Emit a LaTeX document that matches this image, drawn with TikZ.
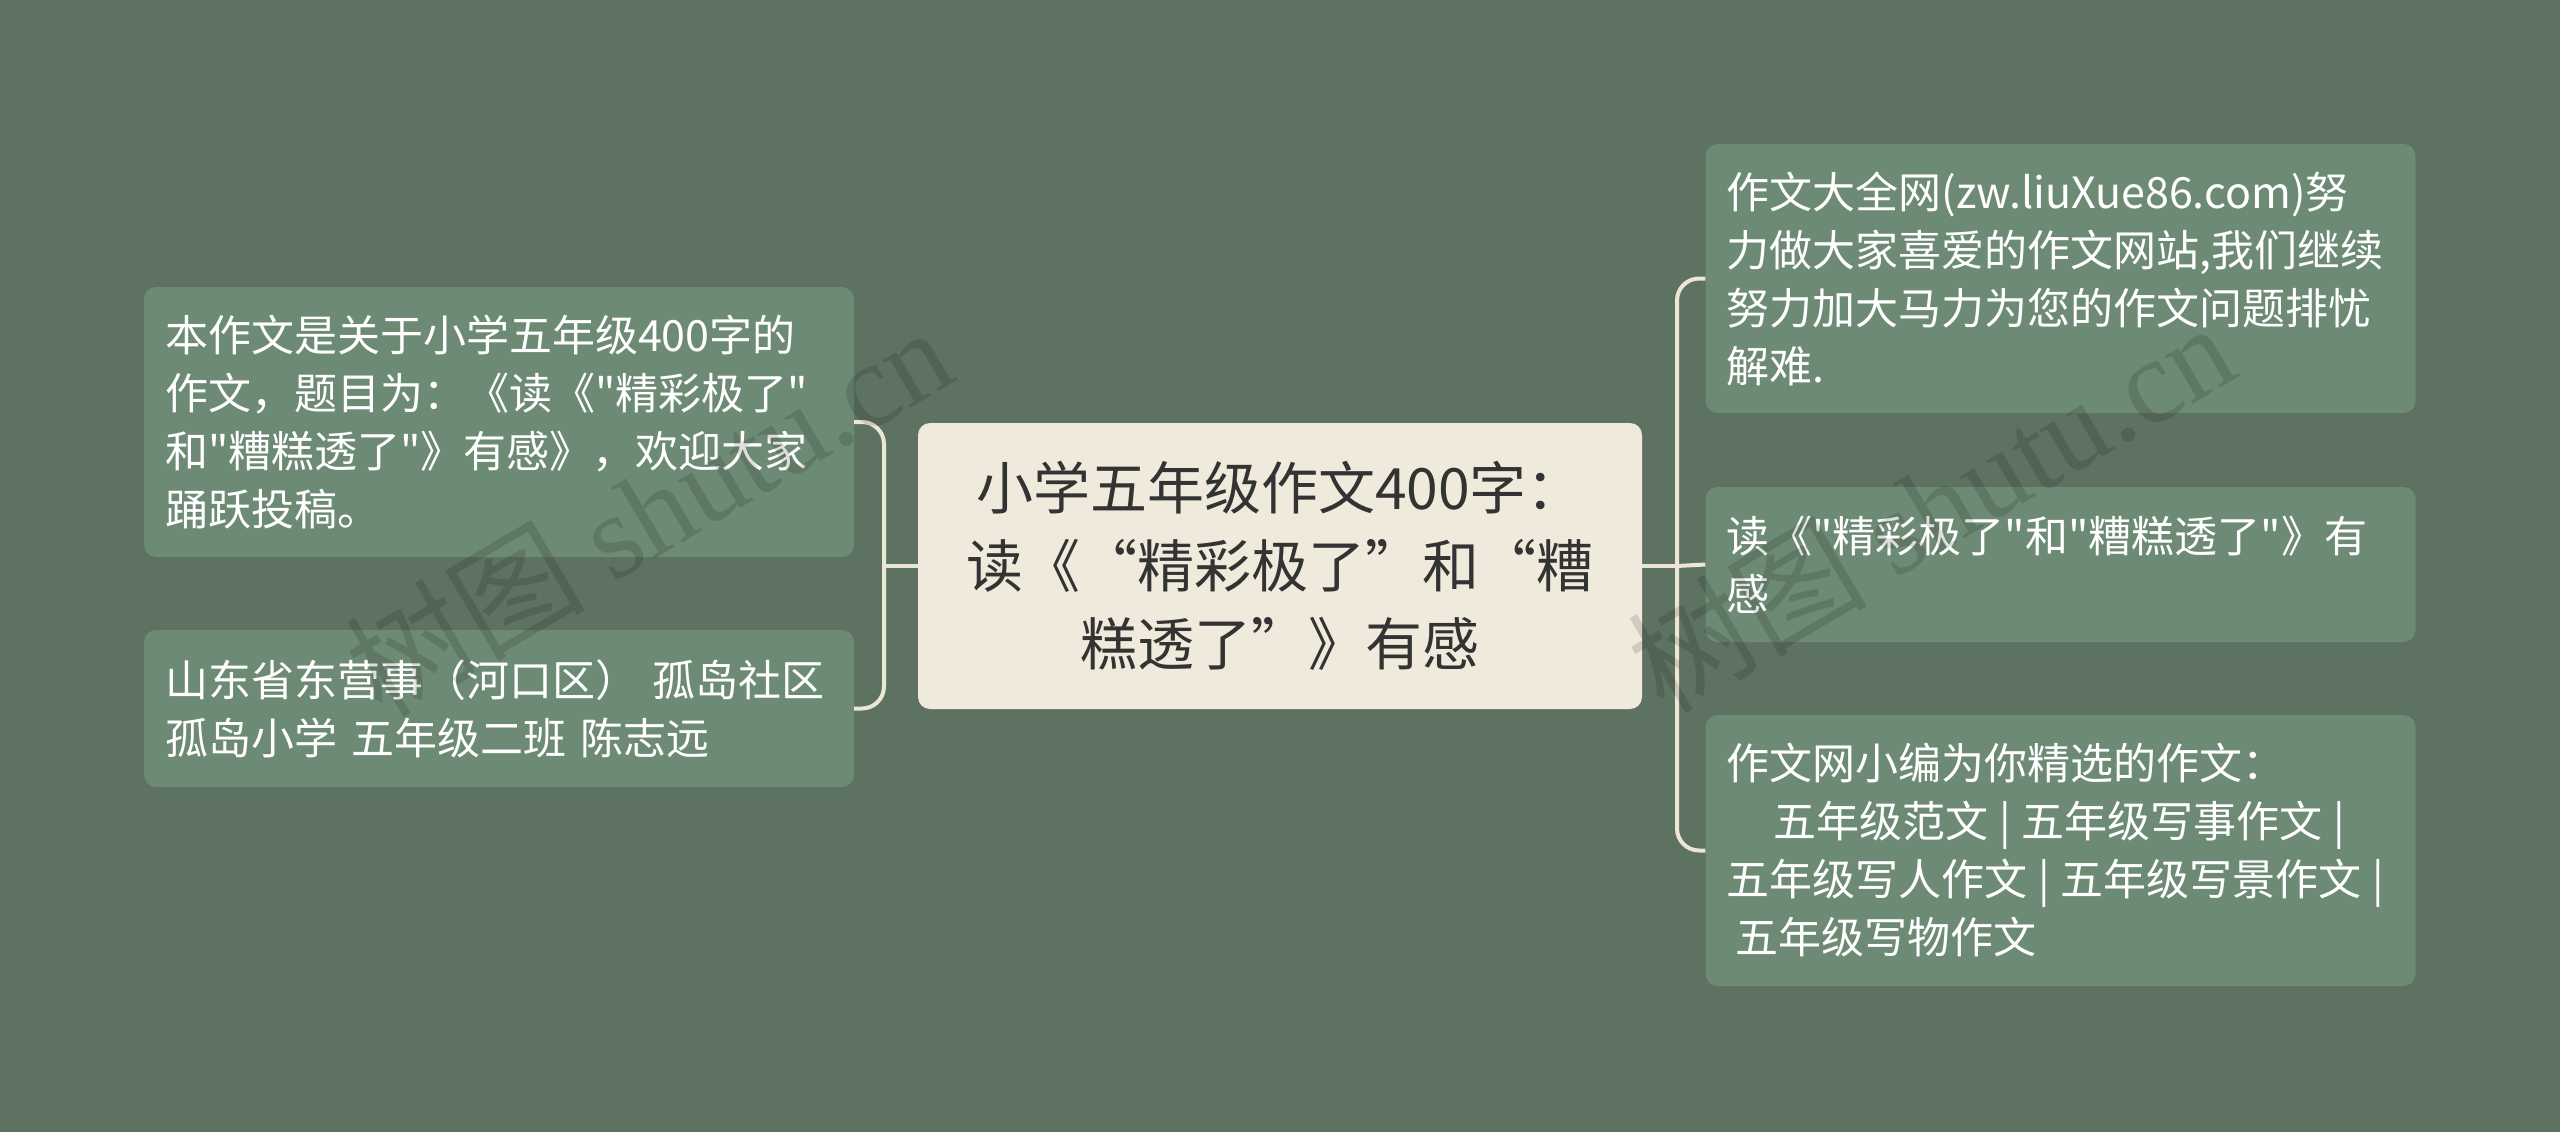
\documentclass[tikz,border=0pt]{standalone}
\usepackage{fontspec}
\newfontfamily\cjk{Noto Sans CJK SC}
\newfontfamily\wmserif{Liberation Serif}
\definecolor{bgc}{HTML}{5E7262}
\definecolor{leafc}{HTML}{6D8A74}
\definecolor{creamc}{HTML}{EFEADB}
\definecolor{linec}{HTML}{ECE7D4}
\definecolor{darktext}{HTML}{333333}
\newcommand{\vbar}{\hspace{0.25em}|\hspace{0.25em}}
\tikzset{
  leaf/.style={fill=leafc, rounded corners=12pt, text=white, align=left,
    minimum width=710pt, text width=668pt, inner xsep=21pt, inner ysep=0pt,
    font=\cjk\fontsize{43}{58}\selectfont},
  rootbox/.style={fill=creamc, rounded corners=12pt, text=darktext, align=center,
    minimum width=724pt, minimum height=286pt, text width=690pt, inner sep=0pt,
    font=\cjk\fontsize{57}{78}\selectfont},
  conn/.style={draw=linec, line width=4pt, rounded corners=22pt},
  wm/.style={text=black, opacity=0.13, font=\cjk\fontsize{120}{120}\selectfont, rotate=30.5}
}
\begin{document}
\begin{tikzpicture}[x=1pt,y=-1pt]
\fill[bgc] (0,0) rectangle (2560,1132);
\useasboundingbox (0,0) rectangle (2560,1132);

% nodes
\node[rootbox] (c) at (1280,566) {小学五年级作文400字：\\读《“精彩极了”和“糟\\糕透了”》有感};
\node[leaf, minimum height=270pt] (l1) at (499,422) {本作文是关于小学五年级400字的\\作文，题目为：《读《"精彩极了"\\和"糟糕透了"》有感》，欢迎大家\\踊跃投稿。};
\node[leaf, minimum height=157pt] (l2) at (499,708.5) {山东省东营事（河口区） 孤岛社区\\孤岛小学 五年级二班 陈志远};
\node[leaf, minimum height=269pt] (r1) at (2060.5,278.5) {作文大全网(zw.liuXue86.com)努\\力做大家喜爱的作文网站,我们继续\\努力加大马力为您的作文问题排忧\\解难.};
\node[leaf, minimum height=155pt] (r2) at (2060.5,564.5) {读《"精彩极了"和"糟糕透了"》有\\感};
\node[leaf, minimum height=271pt] (r3) at (2060.5,850.5) {作文网小编为你精选的作文：\\\hspace*{1.1em}五年级范文\vbar 五年级写事作文\vbar\\五年级写人作文\vbar 五年级写景作文\vbar\\\hspace*{0.2em}五年级写物作文};

% junctions
\coordinate (jl) at (884,566);
\coordinate (jr) at (1677,566);

% connectors
\draw[conn] (c.west) -- (jl);
\draw[conn] (l1.east) -| (jl);
\draw[conn] (l2.east) -| (jl);
\draw[conn] (c.east) -- (jr);
\draw[conn] (jr) |- (r1.west);
\draw[conn] (jr) -- (r2.west);
\draw[conn] (jr) |- (r3.west);

% watermarks
\node[wm] (w1) at (648,510) {树图 {\wmserif shutu.cn}};
\node[wm] (w2) at (1930,506) {树图 {\wmserif shutu.cn}};
\end{tikzpicture}
\end{document}
